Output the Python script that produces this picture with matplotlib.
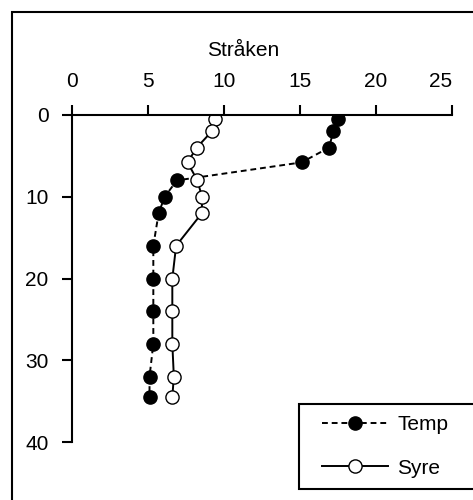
import matplotlib
matplotlib.use('Agg')
import matplotlib.pyplot as plt
from matplotlib.patches import Rectangle
from matplotlib.legend_handler import HandlerLine2D

plt.rcParams['font.family'] = ['Liberation Sans', 'DejaVu Sans']

# dybde (m) og målinger
depth = [0.5, 2, 4, 5.8, 8, 10, 12, 16, 20, 24, 28, 32, 34.5]
temp = [17.5, 17.2, 16.9, 15.1, 6.9, 6.1, 5.7, 5.35, 5.35, 5.35, 5.35, 5.1, 5.1]
syre = [9.4, 9.2, 8.2, 7.6, 8.25, 8.55, 8.55, 6.85, 6.6, 6.6, 6.6, 6.7, 6.6]
x_ticks = [0, 5, 10, 15, 20, 25]
y_ticks = [0, 10, 20, 30, 40]

W, H = 473, 500
fs = 15
fig = plt.figure(figsize=(W / 100, H / 100), dpi=100)
ax = fig.add_axes([72 / W, 1 - 442 / H, 380 / W, 327 / H])

l_temp, = ax.plot(temp, depth, color='black', lw=1.4, dashes=(3, 2),
                  marker='o', ms=9.5, mfc='black', mec='black', mew=1, label='Temp')
l_syre, = ax.plot(syre, depth, color='black', lw=1.4, ls='-',
                  marker='o', ms=9.5, mfc='white', mec='black', mew=1, label='Syre')

ax.set_xlim(0, 25)
ax.set_ylim(40, 0)
ax.set_xticks(x_ticks)
ax.set_yticks(y_ticks)
ax.xaxis.tick_top()
ax.xaxis.set_label_position('top')
ax.set_xlabel('Stråken', fontsize=fs)
ax.xaxis.set_label_coords(0.45, 1.18)

for side in ['right', 'bottom']:
    ax.spines[side].set_visible(False)
for side in ['left', 'top']:
    ax.spines[side].set_linewidth(1.5)
ax.tick_params(direction='out', length=7, width=1.5, labelsize=fs, pad=10)
# siste etikett skyves inn så den ikke går utenfor
ax.get_xticklabels()[-1].set_horizontalalignment('right')

# legende nede til høyre
hm = {l_temp: HandlerLine2D(xpad=0.56), l_syre: HandlerLine2D(xpad=0.56)}
leg = fig.legend(handles=[l_temp, l_syre], handler_map=hm,
                 loc='upper left', bbox_to_anchor=(299 / W, 13 / H, 0.4, 83 / H),
                 bbox_transform=fig.transFigure, mode='expand', borderaxespad=0,
                 fontsize=fs, frameon=True, fancybox=False, edgecolor='black',
                 framealpha=1, handlelength=3.73, labelspacing=1.16,
                 borderpad=0.55, handletextpad=0.43)
leg.get_frame().set_linewidth(1.5)

# ramme rundt hele diagrammet
fig.add_artist(Rectangle((12 / W, -0.1), 1.2, 1.1 - 12 / H, transform=fig.transFigure,
                         fill=False, ec='black', lw=1.5))

fig.savefig('out.png', dpi=100)
